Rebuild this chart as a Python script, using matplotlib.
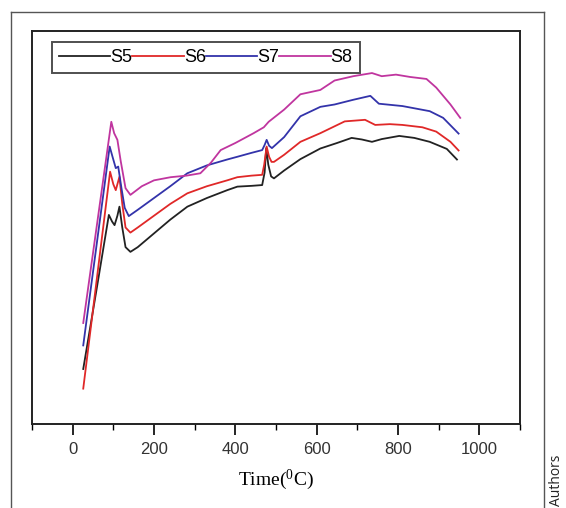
import matplotlib
matplotlib.use("Agg")
import matplotlib.pyplot as plt
from matplotlib.lines import Line2D

plt.rcParams['mathtext.fontset'] = 'custom'
plt.rcParams['mathtext.rm'] = 'Liberation Serif'
plt.rcParams['mathtext.it'] = 'Liberation Serif'

# ---- data (arbitrary y units) ----
s5_x = [26, 60, 89, 97, 103, 110, 115, 122, 130, 142, 160, 200, 240, 282, 330, 380, 405, 440, 466, 472, 476, 481, 488, 495, 520, 560, 609, 650, 686, 711, 736, 760, 803, 840, 878, 920, 945]
s5_y = [14, 35, 53.2, 51.5, 50.6, 53, 55.3, 50, 45, 43.8, 45, 48.5, 52, 55.3, 57.5, 59.5, 60.4, 60.6, 60.8, 64, 70.2, 66, 63, 62.5, 64.5, 67.4, 70.1, 71.5, 72.8, 72.4, 71.8, 72.5, 73.3, 72.8, 71.8, 70.0, 67.3]

s6_x = [26, 92, 100, 106, 115, 122, 130, 142, 160, 200, 240, 282, 330, 380, 405, 440, 466, 471, 477, 483, 489, 495, 520, 560, 609, 669, 719, 744, 780, 811, 860, 894, 929, 949]
s6_y = [9, 64.2, 61, 59.5, 62.9, 56, 50, 48.7, 50, 53, 56, 58.7, 60.5, 62, 62.8, 63.2, 63.4, 66, 70.6, 68, 66.7, 66.7, 68.5, 71.8, 74.0, 77, 77.4, 76.1, 76.3, 76.1, 75.5, 74.4, 71.8, 69.6]

s7_x = [26, 91, 98, 106, 112, 120, 128, 138, 160, 200, 240, 282, 330, 380, 405, 440, 466, 472, 477, 483, 490, 520, 560, 609, 644, 690, 732, 753, 811, 878, 911, 949]
s7_y = [20, 70.6, 68, 65.1, 65.5, 60, 55, 52.9, 54.5, 57.5, 60.5, 63.8, 65.8, 67.3, 68.0, 69, 69.7, 71, 72.3, 70.8, 70.2, 73, 78.3, 80.7, 81.3, 82.5, 83.5, 81.5, 80.9, 79.6, 77.9, 73.9]

s8_x = [26, 95, 102, 110, 118, 130, 142, 170, 200, 241, 280, 314, 340, 364, 400, 445, 470, 482, 520, 560, 609, 644, 690, 736, 760, 795, 830, 870, 894, 929, 953]
s8_y = [25.7, 76.9, 74, 72.3, 67, 60, 58.3, 60.5, 62, 62.8, 63.2, 63.8, 66.5, 69.7, 71.5, 74.0, 75.5, 76.9, 80, 83.9, 85, 87.4, 88.5, 89.3, 88.5, 88.9, 88.3, 87.8, 85.6, 81.3, 77.9]

labels = ["S5", "S6", "S7", "S8"]
colors = ["#222222", "#e02828", "#3333aa", "#c0359f"]
xticks = [0, 200, 400, 600, 800, 1000]

W, H = 566, 508
fig = plt.figure(figsize=(W / 100, H / 100), dpi=100)

# outer frame
def px(x, y):
    return x / W, 1 - y / H
for (x0, y0, x1, y1) in [(11, 12, 544, 12), (11, 12, 11, 508), (544, 12, 544, 508)]:
    a, b = px(x0, y0)
    c, d = px(x1, y1)
    fig.add_artist(Line2D([a, c], [b, d], color="#555555", lw=1.0, transform=fig.transFigure))

ax = fig.add_axes([32 / W, 1 - 424 / H, (520 - 32) / W, (424 - 31) / H])
series = [(s5_x, s5_y), (s6_x, s6_y), (s7_x, s7_y), (s8_x, s8_y)]
for (xs, ys), lab, c in zip(series, labels, colors):
    ax.plot(xs, ys, color=c, lw=1.3, label=lab)

ax.set_xlim(-100, 1100)
ax.set_ylim(0, 100)
ax.set_xticks(xticks)
ax.set_xticks([-100, 100, 300, 500, 700, 900, 1100], minor=True)
ax.set_yticks([])
ax.tick_params(axis='x', which='major', direction='out', length=8, width=1.2, pad=5,
               labelsize=12, labelcolor="#333333", top=False)
ax.tick_params(axis='x', which='minor', direction='out', length=4, width=1.0, top=False)
for lbl in ax.get_xticklabels():
    lbl.set_fontfamily("Liberation Sans")
for sp in ax.spines.values():
    sp.set_linewidth(1.4)
    sp.set_color("#222222")

ax.set_xlabel(r"Time($^{0}$C)", fontfamily="Liberation Serif", fontsize=14, labelpad=8)

leg = ax.legend(loc="upper left", bbox_to_anchor=((52 - 32) / (520 - 32), 1 - (42 - 31) / (424 - 31)),
                ncol=4, frameon=True, fancybox=False, handlelength=2.85, handletextpad=0.0,
                columnspacing=0.0, borderpad=0.38, borderaxespad=0.0,
                prop={"family": "Liberation Sans", "size": 13})
leg.get_frame().set_edgecolor("#222222")
leg.get_frame().set_linewidth(1.4)

fig.text(557 / W, 1 - 506 / H, "Authors", rotation=90, ha="center", va="bottom",
         fontsize=10, fontfamily="Open Sans", color="#222222")

fig.savefig("out.png", dpi=100)
